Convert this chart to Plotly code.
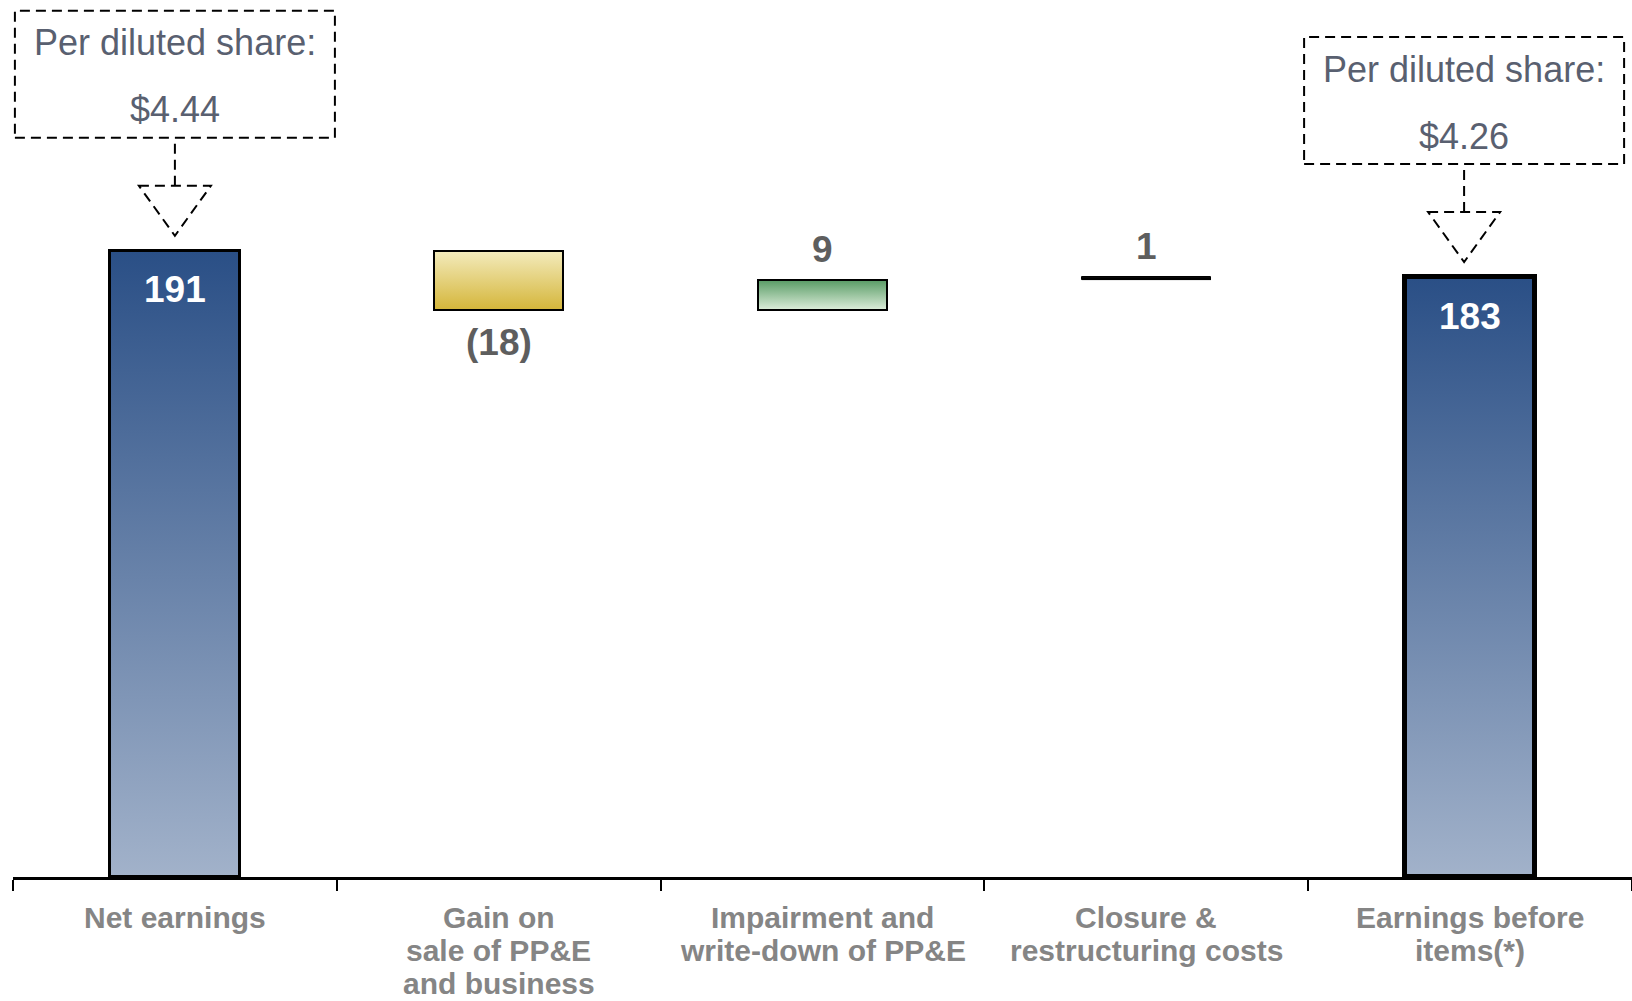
import base64
import plotly.graph_objects as go

# ---------------- data ----------------
categories = ["Net earnings",
              "Gain on<br>sale of PP&E<br>and business",
              "Impairment and<br>write-down of PP&E",
              "Closure &<br>restructuring costs",
              "Earnings before<br>items(*)"]
values = [191, -18, 9, 1, 183]
kinds = ["total", "delta", "delta", "delta", "total"]
value_labels = ["191", "(18)", "9", "1", "183"]
share_bar_index = [0, 4]
share_title = ["Per diluted share:", "Per diluted share:"]
share_values = ["$4.44", "$4.26"]

# ---------------- styles ----------------
grad_top = ["#2a4f86", "#f3ebbd", "#5a9c66", "#000000", "#2a4f86"]
grad_bot = ["#a2b2ca", "#d5b63a", "#dcedda", "#000000", "#a2b2ca"]
line_w = [3, 2, 2, 1, 5]
bar_w = 0.40
FONT = "Arial, Liberation Sans, sans-serif"

# waterfall geometry from data
bases, ends = [], []
running = 0
for v, k in zip(values, kinds):
    if k == "total":
        b = 0
        running = v
    else:
        b = running
        running = running + v
    bases.append(b)
    ends.append(b + v)
xs = list(range(len(values)))


def grad_uri(c1, c2):
    svg = ('<svg xmlns="http://www.w3.org/2000/svg" width="10" height="100" '
           'viewBox="0 0 10 100" preserveAspectRatio="none">'
           '<defs><linearGradient id="g" x1="0" y1="0" x2="0" y2="1">'
           f'<stop offset="0" stop-color="{c1}"/><stop offset="1" stop-color="{c2}"/>'
           '</linearGradient></defs><rect width="10" height="100" fill="url(#g)"/></svg>')
    return "data:image/svg+xml;base64," + base64.b64encode(svg.encode()).decode()


fig = go.Figure()
fig.add_trace(go.Bar(
    x=xs, y=values, base=bases, width=bar_w,
    marker=dict(color="rgba(0,0,0,0)", line=dict(color="black", width=line_w)),
    hoverinfo="skip", showlegend=False,
))

images = []
for i in xs:
    top = max(bases[i], ends[i])
    images.append(dict(
        source=grad_uri(grad_top[i], grad_bot[i]), xref="x", yref="y",
        x=i - bar_w / 2, y=top, sizex=bar_w, sizey=abs(values[i]),
        xanchor="left", yanchor="top", sizing="stretch", layer="below"))

annotations = []
# value labels
for i in xs:
    top = max(bases[i], ends[i])
    bot = min(bases[i], ends[i])
    if kinds[i] == "total":
        annotations.append(dict(x=i, y=top, yshift=-39, text=value_labels[i],
                                font=dict(family=FONT, size=37, color="white", weight="bold")))
    elif values[i] < 0:
        annotations.append(dict(x=i, y=bot, yshift=-33, text=value_labels[i],
                                font=dict(family=FONT, size=37, color="#5e5e5e", weight="bold")))
    else:
        annotations.append(dict(x=i, y=top, yshift=31, text=value_labels[i],
                                font=dict(family=FONT, size=37, color="#5e5e5e", weight="bold")))

# category labels, one annotation per line
line_offsets = [-40, -73, -106]
for i, cat in enumerate(categories):
    for j, part in enumerate(cat.split("<br>")):
        annotations.append(dict(x=i, y=0, yshift=line_offsets[j], text=part,
                                font=dict(family=FONT, size=30, color="#858585", weight="bold")))

# per diluted share call-outs
shapes = []
dash = "10px,6px"
box_dx = [0, -6]
for n, i in enumerate(share_bar_index):
    top = max(bases[i], ends[i])
    dx = box_dx[n]
    common = dict(xref="x", yref="y", xanchor=i, yanchor=top,
                  xsizemode="pixel", ysizemode="pixel",
                  line=dict(color="black", width=2, dash=dash))
    shapes.append(dict(type="rect", x0=dx - 160, x1=dx + 160, y0=113, y1=240, **common))
    shapes.append(dict(type="line", x0=dx, x1=dx, y0=65, y1=113, **common))
    shapes.append(dict(type="path",
                       path=f"M {dx-36},65 L {dx+36},65 L {dx},15 Z", **common))
    annotations.append(dict(x=i, y=top, yshift=208, xshift=dx, text=share_title[n],
                            font=dict(family=FONT, size=36, color="#596070")))
    annotations.append(dict(x=i, y=top, yshift=141, xshift=dx, text=share_values[n],
                            font=dict(family=FONT, size=36, color="#596070")))

for a in annotations:
    a.update(xref="x", yref="y", showarrow=False, xanchor="center", yanchor="middle")

fig.update_layout(
    width=1632, height=1001,
    margin=dict(l=13, r=0, t=0, b=124),
    paper_bgcolor="white", plot_bgcolor="white",
    images=images, shapes=shapes, annotations=annotations,
    xaxis=dict(range=[-0.5, len(values) - 0.5],
               tickvals=[k - 0.5 for k in range(len(values) + 1)],
               ticks="outside", ticklen=11, tickwidth=1.5, tickcolor="black",
               showticklabels=False, showline=True, linewidth=3, linecolor="black",
               showgrid=False, zeroline=False, fixedrange=True),
    yaxis=dict(range=[0, 267.5], visible=False, showgrid=False, zeroline=False,
               fixedrange=True),
    bargap=0,
)

fig.write_html("out.html", config={"displayModeBar": False})
